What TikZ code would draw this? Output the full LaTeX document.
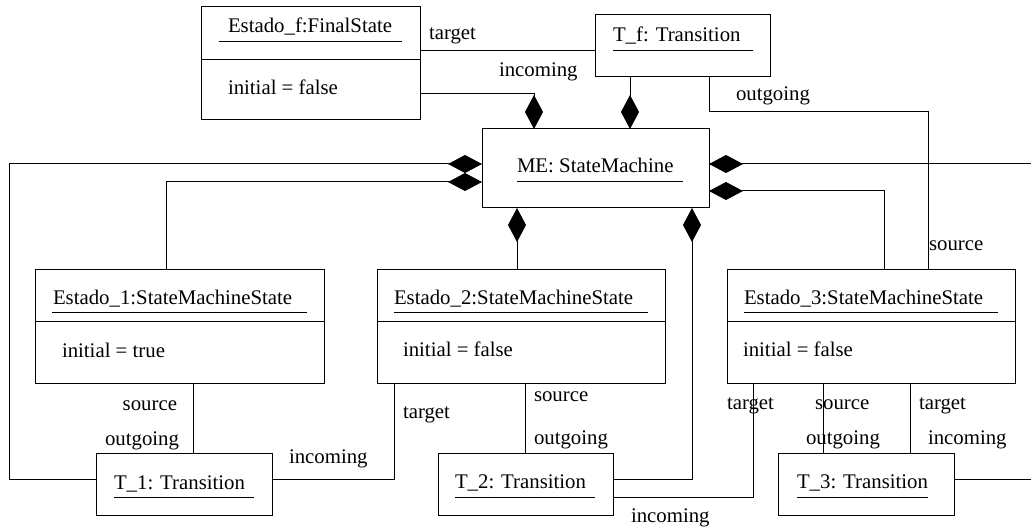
\documentclass[tikz,border=0pt]{standalone}
\usepackage{fontspec}
\setmainfont{Liberation Serif}
\usetikzlibrary{arrows.meta}
\begin{document}
\begin{tikzpicture}[x=1pt,y=-1pt,line width=1pt,
  box/.style={draw,line width=1pt,inner sep=0pt,outer sep=0pt,anchor=north west},
  txt/.style={inner sep=0pt,outer sep=0pt,anchor=base west,font=\fontsize{20.8}{25}\selectfont},
  txtr/.style={txt,anchor=base east},
  uline/.style={line width=1pt},
  conn/.style={line width=1pt},
  comp/.style={conn,-{Diamond[length=34pt,width=18pt]}}]
\clip (0,0) rectangle (1031,529);
\fill[white] (0,0) rectangle (1031,529);
% boxes
\node[box,minimum width=219pt,minimum height=113pt] (ef) at (201,7) {};
\node[box,minimum width=175pt,minimum height=62pt] (tf) at (595,15) {};
\node[box,minimum width=227pt,minimum height=79pt] (me) at (482,129) {};
\node[box,minimum width=289pt,minimum height=113pt] (e1) at (35,270) {};
\node[box,minimum width=288pt,minimum height=113pt] (e2) at (377,270) {};
\node[box,minimum width=288pt,minimum height=113pt] (e3) at (727,270) {};
\node[box,minimum width=176pt,minimum height=62pt] (t1) at (96,453) {};
\node[box,minimum width=175pt,minimum height=62pt] (t2) at (438,453) {};
\node[box,minimum width=176pt,minimum height=62pt] (t3) at (778,453) {};
% compartments
\draw (ef.west|-0,60) -- (ef.east|-0,60);
\draw (e1.west|-0,322) -- (e1.east|-0,322);
\draw (e2.west|-0,322) -- (e2.east|-0,322);
\draw (e3.west|-0,322) -- (e3.east|-0,322);
% titles
\node[txt] (efn) at (228,33) {Estado\_f:FinalState};
\draw[uline] (219,42) -- (402,42);
\node[txt] (tfn) at (613,42) {T\_f: Transition};
\draw[uline] (613,51) -- (753,51);
\node[txt] (men) at (517,173) {ME: StateMachine};
\draw[uline] (517,182) -- (683,182);
\node[txt] (e1n) at (53,305) {Estado\_1:StateMachineState};
\draw[uline] (52,313) -- (307,313);
\node[txt] (e2n) at (394,305) {Estado\_2:StateMachineState};
\draw[uline] (394,313) -- (648,313);
\node[txt] (e3n) at (744,305) {Estado\_3:StateMachineState};
\draw[uline] (744,313) -- (998,313);
\node[txt] (t1n) at (114,489) {T\_1: Transition};
\draw[uline] (114,497) -- (254,497);
\node[txt] (t2n) at (455,488) {T\_2: Transition};
\draw[uline] (455,497) -- (595,497);
\node[txt] (t3n) at (797,488) {T\_3: Transition};
\draw[uline] (797,497) -- (928,497);
% attributes
\node[txt] (efa) at (228,95) {initial = false};
\node[txt] (e1a) at (62,357) {initial = true};
\node[txt] (e2a) at (403,356) {initial = false};
\node[txt] (e3a) at (743,356) {initial = false};
% connectors
\draw[conn] (ef.east|-0,51) -- (tf.west|-0,51);
\draw[comp] (ef.east|-0,94) -| (534,0|-me.north);
\draw[comp] (630,0|-tf.south) -- (630,0|-me.north);
\draw[conn] (709,0|-tf.south) |- (928,112) -- (928,0|-e3.north);
\draw[comp] (t1.west|-0,479) -| (9,164) -- (me.west|-0,164);
\draw[comp] (166,0|-e1.north) |- (me.west|-0,182);
\draw[comp] (t3.east|-0,479) -| (1045,164) -- (me.east|-0,164);
\draw[comp] (884,0|-e3.north) |- (me.east|-0,191);
\draw[comp] (517,0|-e2.north) -- (517,0|-me.south);
\draw[comp] (t2.east|-0,479) -| (692,0|-me.south);
\draw[conn] (193,0|-e1.south) -- (193,0|-t1.north);
\draw[conn] (t1.east|-0,479) -| (394,0|-e2.south);
\draw[conn] (525,0|-e2.south) -- (525,0|-t2.north);
\draw[conn] (t2.east|-0,497) -| (753,0|-e3.south);
\draw[conn] (823,0|-e3.south) -- (823,0|-t3.north);
\draw[conn] (910,0|-e3.south) -- (910,0|-t3.north);
% role labels
\node[txt] (l1) at (429,40) {target};
\node[txt] (l2) at (499,77) {incoming};
\node[txt] (l3) at (736,101) {outgoing};
\node[txt] (l4) at (929,251) {source};
\node[txtr] (l5) at (177,410) {source};
\node[txtr] (l6) at (179,445) {outgoing};
\node[txt] (l7) at (289,463) {incoming};
\node[txt] (l8) at (403,418) {target};
\node[txt] (l9) at (534,401) {source};
\node[txt] (l10) at (534,444) {outgoing};
\node[txt] (l11) at (631,522) {incoming};
\node[txt] (l12) at (727,409) {target};
\node[txt] (l13) at (815,409) {source};
\node[txt] (l14) at (806,444) {outgoing};
\node[txt] (l15) at (919,409) {target};
\node[txt] (l16) at (928,444) {incoming};
\end{tikzpicture}
\end{document}
